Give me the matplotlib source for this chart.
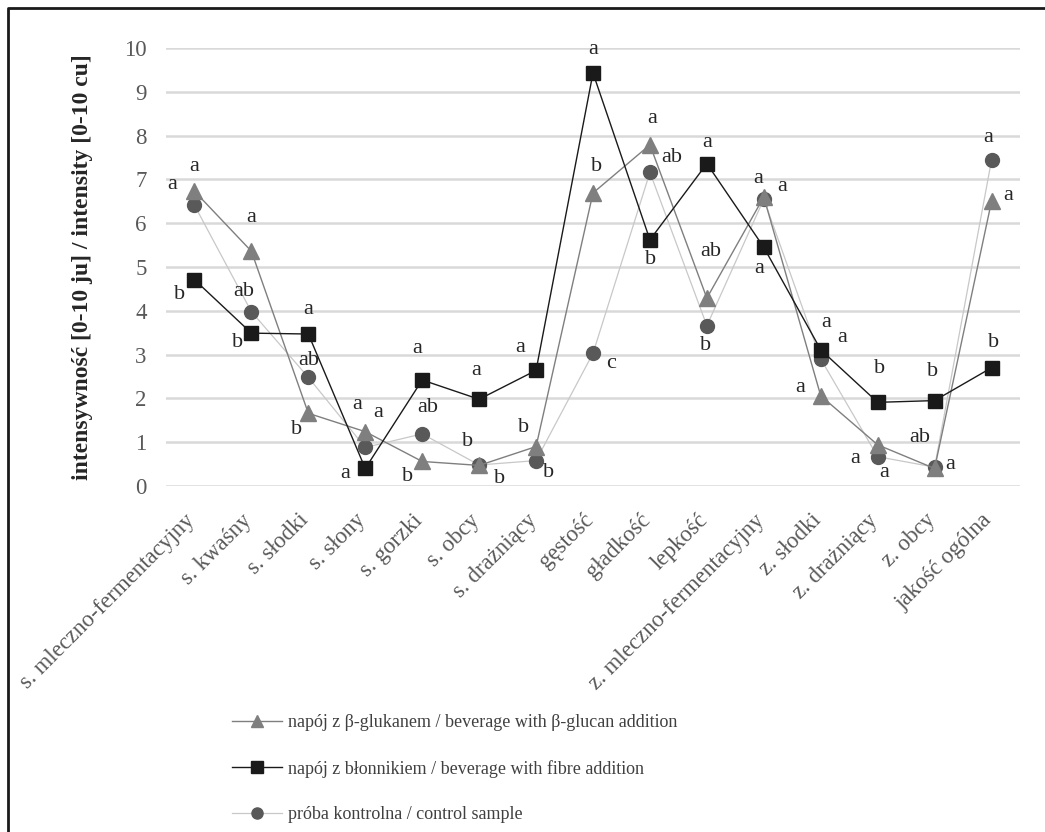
import numpy as np
import matplotlib.pyplot as plt
import matplotlib.transforms as mtransforms
from matplotlib.lines import Line2D

plt.rcParams['font.family'] = ['Liberation Serif', 'DejaVu Serif']

# attributes
categories = ['s. mleczno-fermentacyjny', 's. kwaśny', 's. słodki', 's. słony',
              's. gorzki', 's. obcy', 's. drażniący', 'gęstość', 'gładkość',
              'lepkość', 'z. mleczno-fermentacyjny', 'z. słodki', 'z. drażniący',
              'z. obcy', 'jakość ogólna']

# beta-glucan beverage
glucan = [6.73, 5.36, 1.66, 1.24, 0.56, 0.47, 0.90, 6.69, 7.79, 4.29, 6.60, 2.06, 0.94, 0.40, 6.50]
# fibre beverage
fibre = [4.71, 3.49, 3.47, 0.40, 2.42, 1.98, 2.64, 9.43, 5.62, 7.36, 5.45, 3.11, 1.91, 1.95, 2.70]
# control sample
control = [6.41, 3.98, 2.48, 0.88, 1.19, 0.48, 0.58, 3.03, 7.16, 3.66, 6.55, 2.90, 0.67, 0.43, 7.44]

# significance letters
glucan_lbl = ['a', 'a', 'b', 'a', 'b', 'b', 'b', 'b', 'a', 'ab', 'a', 'a', 'a', 'a', 'a']
fibre_lbl = ['b', 'b', 'a', 'a', 'a', 'a', 'a', 'a', 'b', 'a', 'a', 'a', 'b', 'b', 'b']
control_lbl = ['a', 'ab', 'ab', 'a', 'ab', 'b', 'b', 'c', 'ab', 'b', 'a', 'a', 'a', 'ab', 'a']

# label offsets in pixels (dx, dy)
glucan_off = [(0, 25), (0, 34), (-12, -16), (13, 19), (-15, -15), (20, -13), (-13, 19),
              (4, 26), (2, 26), (4, 47), (18, 10), (-21, 8), (-22, -14), (16, 4), (17, 6)]
fibre_off = [(-15, -15), (-14, -9), (0, 25), (-20, -5), (-5, 32), (-3, 29), (-16, 23),
             (0, 23), (1, -20), (0, 21), (-5, -21), (5, 27), (2, 34), (-2, 29), (2, 25)]
control_off = [(-22, 21), (-8, 20), (0, 17), (-8, 43), (6, 26), (-12, 23), (12, -12),
               (18, -10), (22, 15), (-1, -20), (-6, 21), (21, 21), (7, -16), (-15, 30), (-3, 23)]

W, H = 1045, 832
fig = plt.figure(figsize=(W / 100, H / 100), dpi=100)
ax = fig.add_axes([166 / W, 1 - 486 / H, (1020 - 166) / W, (486 - 48) / H])

x = np.arange(len(categories))

ax.plot(x, control, color='#c8c8c8', lw=0.9, marker='o', ms=10,
        mfc='#595959', mec='#595959', label='próba kontrolna / control sample', zorder=3)
ax.plot(x, glucan, color='#7f7f7f', lw=1.0, marker='^', ms=11,
        mfc='#7f7f7f', mec='#7f7f7f', label='napój z β-glukanem / beverage with β-glucan addition', zorder=4)
ax.plot(x, fibre, color='#1a1a1a', lw=1.0, marker='s', ms=10,
        mfc='#1a1a1a', mec='#1a1a1a', label='napój z błonnikiem / beverage with fibre addition', zorder=5)

for vals, lbls, offs in [(glucan, glucan_lbl, glucan_off),
                         (fibre, fibre_lbl, fibre_off),
                         (control, control_lbl, control_off)]:
    for i in range(len(vals)):
        ax.annotate(lbls[i], (x[i], vals[i]), xytext=offs[i], textcoords='offset pixels',
                    ha='center', va='center', fontsize=16, color='#262626')

ax.set_xlim(-0.5, len(categories) - 0.5)
ax.set_ylim(0, 10)
ax.set_yticks(range(0, 11))
ax.yaxis.grid(True, color='#d9d9d9', lw=1.8)
ax.set_axisbelow(True)
for s in ax.spines.values():
    s.set_visible(False)
ax.tick_params(axis='both', length=0, labelsize=16.5, labelcolor='#595959')
ax.tick_params(axis='y', pad=14)
ax.set_xticks(x)
ax.set_xticklabels(categories, rotation=45, ha='right', rotation_mode='anchor')
ax.tick_params(axis='x', pad=10)
shift = mtransforms.ScaledTranslation(-10 / 100, -10 / 100, fig.dpi_scale_trans)
for lab in ax.get_xticklabels():
    lab.set_transform(lab.get_transform() + shift)
ax.set_ylabel('intensywność [0-10 ju] / intensity [0-10 cu]', fontsize=17,
              fontweight='bold', color='#262626', labelpad=22)

handles, labels = ax.get_legend_handles_labels()
order = [1, 2, 0]
leg = fig.legend([handles[i] for i in order], [labels[i] for i in order],
                 loc='upper left', bbox_to_anchor=(216 / W, 1 - 698 / H),
                 frameon=False, fontsize=13, labelspacing=1.58, handlelength=2.77,
                 handletextpad=0.33, markerscale=0.8)
for t in leg.get_texts():
    t.set_color('#404040')

# outer frame (top and left only)
fig.add_artist(Line2D([8 / W, 8 / W, 1], [0, 1 - 8 / H, 1 - 8 / H],
                      transform=fig.transFigure, color='#1a1a1a', lw=2))

fig.savefig('out.png', dpi=100)
